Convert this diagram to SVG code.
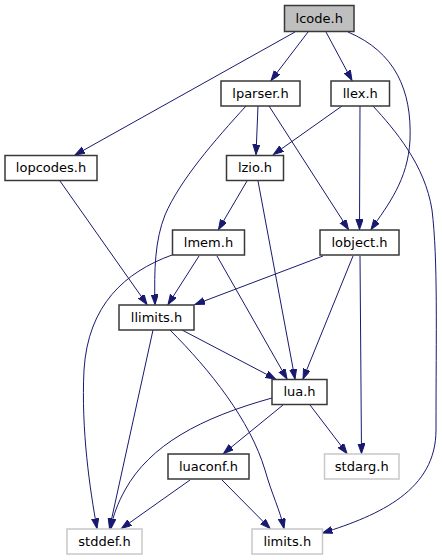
<svg xmlns="http://www.w3.org/2000/svg" width="442" height="560" viewBox="0 0 442 560">
<style>
.n rect{fill:#ffffff;stroke:#383838;stroke-width:1.5}
.n.g rect{stroke:#c8c8c8}
.n.c rect{fill:#bfbfbf}
.n text{font-family:"DejaVu Sans",sans-serif;font-size:13px;text-anchor:middle;fill:#000}
#edges path{fill:none;stroke:#191970;stroke-width:1;marker-end:url(#ah)}
</style>
<defs>
<marker id="ah" markerUnits="userSpaceOnUse" markerWidth="11" markerHeight="8" refX="10" refY="3.5" orient="auto">
<path d="M0,0 L10,3.5 L0,7 z" fill="#191970" stroke="#191970" stroke-width="1"/>
</marker>
</defs>
<rect width="442" height="560" fill="#ffffff"/>
<g id="edges">
<path d="M295,32 L75,155"/>
<path d="M308,32 L271,80.5"/>
<path d="M326,32 L352,80.5"/>
<path d="M348,32 C395,52 412,90 410,140 C408,180 388,205 371,229.5"/>
<path d="M258,106 L256,154.5"/>
<path d="M246,106 C215,140 180,180 165,215 C155,240 154,270 155,304.5"/>
<path d="M269,106 L348.5,229.5"/>
<path d="M342,106 L273.5,154.5"/>
<path d="M360,106 L359.5,229.5"/>
<path d="M373,106 C395,130 425,165 432,210 C438,260 436,330 436,430 C436,490 380,515 322.5,533"/>
<path d="M60,181 L147,304.5"/>
<path d="M247,181 L218.5,229.5"/>
<path d="M258,181 L295,379"/>
<path d="M172,255 C125,272 88,305 84,370 C81,430 90,490 97,528.5"/>
<path d="M199,256 L168,304.5"/>
<path d="M217,256 L287,379"/>
<path d="M323,256 L195,304.5"/>
<path d="M353,256 L303,379"/>
<path d="M360,256 L361.5,453.5"/>
<path d="M153,330 L109.5,528.5"/>
<path d="M182,330 L275.5,379"/>
<path d="M170,330 C210,370 250,420 265,470 C272,495 280,510 284,528.5"/>
<path d="M272,398 C200,418 150,445 125,490 C118,503 113,515 111,528.5"/>
<path d="M283,405 L223.5,453.5"/>
<path d="M310,405 L347,453.5"/>
<path d="M190,480 L121.5,528.5"/>
<path d="M222,480 L270,528.5"/>
</g>
<g id="lcode" class="n c"><rect x="284.5" y="5.5" width="69.5" height="26"/><text x="319.25" y="22.5">lcode.h</text></g>
<g id="lparser" class="n"><rect x="221" y="81" width="79" height="25"/><text x="260.5" y="97.5">lparser.h</text></g>
<g id="llex" class="n"><rect x="331" y="81" width="58.5" height="25"/><text x="360.25" y="97.5">llex.h</text></g>
<g id="lopcodes" class="n"><rect x="5" y="155.5" width="92" height="25"/><text x="51" y="172">lopcodes.h</text></g>
<g id="lzio" class="n"><rect x="226.5" y="155.5" width="57" height="25"/><text x="255" y="172">lzio.h</text></g>
<g id="lmem" class="n"><rect x="172.5" y="230" width="72" height="25"/><text x="208.5" y="246.5">lmem.h</text></g>
<g id="lobject" class="n"><rect x="320" y="230" width="79" height="25"/><text x="359.5" y="246.5">lobject.h</text></g>
<g id="llimits" class="n"><rect x="119" y="305" width="75" height="25"/><text x="156.5" y="321.5">llimits.h</text></g>
<g id="lua" class="n"><rect x="272" y="379.5" width="55" height="25"/><text x="299.5" y="396">lua.h</text></g>
<g id="luaconf" class="n"><rect x="168" y="454" width="81" height="25"/><text x="208.5" y="470.5">luaconf.h</text></g>
<g id="stdarg" class="n g"><rect x="324.5" y="454" width="74.5" height="25"/><text x="361.75" y="470.5">stdarg.h</text></g>
<g id="stddef" class="n g"><rect x="67" y="529" width="75" height="25"/><text x="104.5" y="545.5">stddef.h</text></g>
<g id="limits" class="n g"><rect x="252" y="529" width="70.5" height="25"/><text x="287.25" y="545.5">limits.h</text></g>
</svg>
